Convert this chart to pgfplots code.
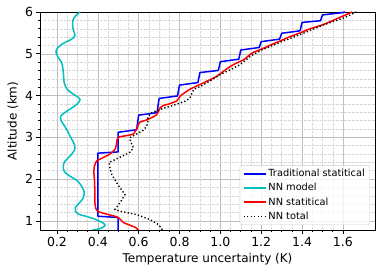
\documentclass[border=0pt]{standalone}
\usepackage{fontspec}
\setmainfont{DejaVu Sans}
\usepackage{pgfplots}
\pgfplotsset{compat=1.18}
\definecolor{mplc}{rgb}{0,0.75,0.75}
\definecolor{mplb}{rgb}{0,0,1}
\definecolor{mplr}{rgb}{1,0,0}
\begin{document}
\begin{tikzpicture}
\begin{axis}[
  scale only axis, width=335pt, height=218pt,
  xmin=0.117, xmax=1.757, ymin=0.78, ymax=6,
  xtick={0.2,0.4,0.6,0.8,1.0,1.2,1.4,1.6},
  ytick={1,2,3,4,5,6},
  minor x tick num=3, minor y tick num=4,
  grid=both,
  major grid style={line width=0.5pt, draw=black!25},
  minor grid style={line width=0.4pt, draw=black!15, dash pattern=on 2.5pt off 1.5pt},
  tick align=outside, xtick pos=bottom, ytick pos=left,
  major tick length=3.5pt, minor tick length=2pt,
  tick style={black, line width=0.6pt},
  axis line style={line width=0.8pt},
  /pgf/number format/assume math mode=true,
  xticklabel style={font=\fontsize{12.5}{14}\selectfont, /pgf/number format/.cd, fixed, fixed zerofill, precision=1},
  yticklabel style={font=\fontsize{12.5}{14}\selectfont},
  label style={font=\fontsize{12}{14}\selectfont},
  xlabel={Temperature uncertainty (K)},
  ylabel={Altitude (km)},
  legend style={at={(0.985,0.023)}, anchor=south east,
    font=\fontsize{9.8}{11}\selectfont, draw=black!20, rounded corners=2pt,
    fill=white, fill opacity=0.8, text opacity=1, draw opacity=1,
    inner xsep=3pt, inner ysep=2pt, row sep=1.2pt},
  legend cell align=left,
  legend image code/.code={\draw[#1] (0pt,0pt) -- (22pt,0pt);},
]
\addplot[draw=mplb, line width=1.5pt, no marks, line join=round] coordinates {
(0.5,0.78)(0.5,1.08)(0.4,1.11)(0.4,2.62)(0.5,2.65)(0.5,3.12)(0.59,3.18)(0.6,3.53)(0.69,3.59)(0.7,3.93)(0.79,3.99)(0.8,4.25)(0.89,4.31)(0.9,4.55)(0.99,4.60)(1.0,4.81)(1.09,4.87)(1.1,5.09)(1.19,5.15)(1.2,5.29)(1.29,5.35)(1.3,5.49)(1.39,5.55)(1.4,5.75)(1.49,5.79)(1.5,5.93)(1.59,5.98)(1.61,6.0)
};
\addlegendentry{Traditional statitical}
\addplot[draw=mplc, line width=1.5pt, no marks, smooth, tension=0.5] coordinates {
(0.313,6.00)(0.290,5.90)(0.278,5.80)(0.277,5.65)(0.285,5.50)(0.287,5.42)(0.265,5.33)(0.231,5.25)(0.205,5.15)(0.195,5.05)(0.205,4.92)(0.222,4.80)(0.229,4.65)(0.232,4.50)(0.236,4.30)(0.250,4.15)(0.272,4.06)(0.300,3.97)(0.313,3.90)(0.300,3.80)(0.272,3.70)(0.235,3.58)(0.218,3.50)(0.220,3.40)(0.240,3.25)(0.264,3.03)(0.285,2.83)(0.287,2.71)(0.264,2.55)(0.238,2.42)(0.231,2.30)(0.236,2.18)(0.260,2.08)(0.297,1.97)(0.318,1.85)(0.333,1.70)(0.329,1.55)(0.310,1.43)(0.290,1.32)(0.290,1.24)(0.305,1.16)(0.340,1.11)(0.380,1.05)(0.425,0.95)(0.435,0.89)(0.420,0.83)(0.390,0.79)(0.375,0.78)
};
\addlegendentry{NN model}
\addplot[draw=mplr, line width=1.5pt, no marks, smooth, tension=0.3] coordinates {
(1.645,6.00)(1.580,5.86)(1.504,5.70)(1.440,5.60)(1.390,5.50)(1.341,5.41)(1.290,5.30)(1.250,5.22)(1.210,5.13)(1.175,5.06)(1.153,5.01)(1.130,4.92)(1.112,4.85)(1.080,4.78)(1.047,4.69)(1.015,4.58)(0.982,4.46)(0.950,4.38)(0.916,4.30)(0.880,4.22)(0.851,4.15)(0.820,4.05)(0.802,3.98)(0.786,3.87)(0.750,3.80)(0.720,3.76)(0.704,3.70)(0.695,3.60)(0.688,3.54)(0.660,3.46)(0.630,3.40)(0.605,3.36)(0.598,3.30)(0.590,3.20)(0.574,3.08)(0.541,3.04)(0.505,3.01)(0.495,2.95)(0.490,2.80)(0.484,2.71)(0.460,2.60)(0.420,2.50)(0.394,2.43)(0.383,2.30)(0.381,2.15)(0.384,1.95)(0.386,1.67)(0.386,1.43)(0.390,1.30)(0.402,1.22)(0.443,1.16)(0.490,1.10)(0.505,1.06)(0.525,0.96)(0.560,0.89)(0.585,0.84)(0.598,0.78)
};
\addlegendentry{NN statitical}
\addplot[draw=black, line width=1.4pt, no marks, dash pattern=on 1.3pt off 2.2pt] coordinates {
(1.667,6.00)(1.600,5.85)(1.504,5.69)(1.406,5.49)(1.300,5.29)(1.202,5.09)(1.150,4.95)(1.096,4.74)(1.050,4.62)(0.998,4.50)(0.950,4.35)(0.900,4.21)(0.870,4.15)(0.860,4.05)(0.851,3.94)(0.830,3.87)(0.802,3.82)(0.753,3.74)(0.700,3.66)(0.660,3.58)(0.645,3.48)(0.645,3.38)(0.639,3.26)(0.620,3.16)(0.598,3.10)(0.557,2.99)(0.560,2.90)(0.574,2.75)(0.560,2.65)(0.508,2.52)(0.456,2.40)(0.460,2.25)(0.468,2.11)(0.500,1.85)(0.533,1.63)(0.520,1.52)(0.508,1.43)(0.484,1.27)(0.508,1.23)(0.590,1.15)(0.655,1.03)(0.690,0.93)(0.712,0.83)(0.715,0.78)
};
\addlegendentry{NN total}
\end{axis}
\pgfresetboundingbox
\path[use as bounding box] ([shift={(-40pt,-45pt)}]current axis.south west) rectangle ([shift={(7pt,12pt)}]current axis.north east);
\end{tikzpicture}
\end{document}
